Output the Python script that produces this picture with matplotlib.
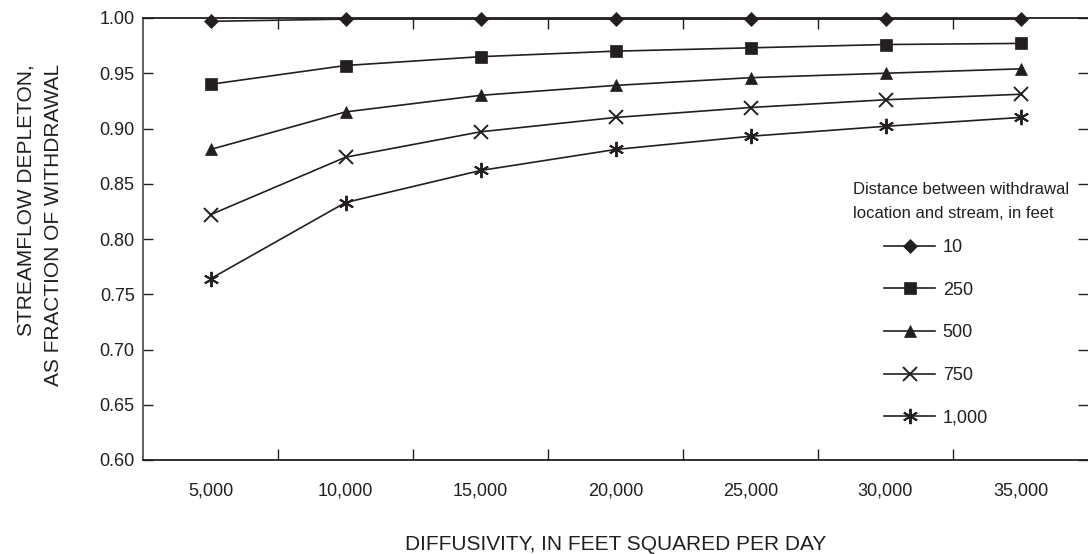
import numpy as np
import matplotlib
matplotlib.use("Agg")
import matplotlib.pyplot as plt

plt.rcParams['font.family'] = ['Liberation Sans Narrow', 'Liberation Sans', 'DejaVu Sans']

# Data
diffusivity = ["5,000", "10,000", "15,000", "20,000", "25,000", "30,000", "35,000"]
dist_labels = ["10", "250", "500", "750", "1,000"]
d10 = [0.997, 0.999, 0.999, 0.999, 0.999, 0.999, 0.999]
d250 = [0.940, 0.957, 0.965, 0.970, 0.973, 0.976, 0.977]
d500 = [0.881, 0.915, 0.930, 0.939, 0.946, 0.950, 0.954]
d750 = [0.822, 0.874, 0.897, 0.910, 0.919, 0.926, 0.931]
d1000 = [0.764, 0.833, 0.862, 0.881, 0.893, 0.902, 0.910]

series = [d10, d250, d500, d750, d1000]
markers = ["D", "s", "^", "x", (6, 2, 0)]
msizes = [7, 8, 9, 10, 11]
ink = "#231f20"

fig = plt.figure(figsize=(10.88, 5.54), dpi=100)
ax = fig.add_axes([143 / 1088, 1 - 460 / 554, (1088 - 143) / 1088, (460 - 18) / 554])

x = np.arange(len(diffusivity))
handles = []
for vals, mk, ms, lab in zip(series, markers, msizes, dist_labels):
    h, = ax.plot(x, vals, color=ink, lw=1.2, marker=mk, markersize=ms,
                 markeredgewidth=1.4 if mk in ("x", (6, 2, 0)) else 0.5,
                 markerfacecolor=ink, markeredgecolor=ink, label=lab,
                 clip_on=False, zorder=3)
    handles.append(h)

ax.set_xlim(-0.5, len(diffusivity) - 0.5)
ax.set_ylim(0.60, 1.00)

yt = np.arange(0.60, 1.001, 0.05)
ax.set_yticks(yt)
ax.set_yticklabels([f"{v:.2f}" for v in yt], fontsize=13, color=ink)
ax.set_xticks(x)
ax.set_xticklabels(diffusivity, fontsize=13, color=ink)
ax.tick_params(axis="x", length=0, pad=16)
ax.tick_params(axis="y", direction="in", length=7, width=1, color=ink,
               right=True, labelright=False, pad=6)
# category boundaries as minor ticks
ax.set_xticks(np.arange(0.5, len(diffusivity) - 0.5, 1), minor=True)
ax.tick_params(axis="x", which="minor", direction="in", length=8, width=1,
               color=ink, top=True)

for side in ("left", "top", "bottom"):
    ax.spines[side].set_linewidth(1.3)
    ax.spines[side].set_color(ink)
ax.spines["left"].set_color("#555555")
ax.spines["right"].set_visible(False)

ax.set_ylabel("STREAMFLOW DEPLETON,\nAS FRACTION OF WITHDRAWAL", fontsize=15,
              linespacing=1.6, multialignment="right", color=ink)
ax.yaxis.set_label_coords((40 - 143) / 945, (460 - 225) / 442)
ax.set_xlabel("DIFFUSIVITY, IN FEET SQUARED PER DAY", fontsize=15, color=ink)
ax.xaxis.set_label_coords(0.5, -(545 - 460) / 442)
ax.xaxis.label.set_va("center")
ax.yaxis.label.set_va("center")

ax.text(853 / 1088, 1 - 182 / 554, "Distance between withdrawal\nlocation and stream, in feet",
        transform=fig.transFigure, fontsize=12, va="top", ha="left",
        linespacing=1.75, color=ink)
leg = ax.legend(handles=handles, loc="upper left",
                bbox_to_anchor=(884 / 1088, 1 - 239 / 554),
                bbox_transform=fig.transFigure, frameon=False, fontsize=13,
                handlelength=2.85, handletextpad=0.4, labelspacing=1.42,
                borderpad=0, borderaxespad=0)
for t in leg.get_texts():
    t.set_color(ink)

fig.savefig("out.png", dpi=100)
